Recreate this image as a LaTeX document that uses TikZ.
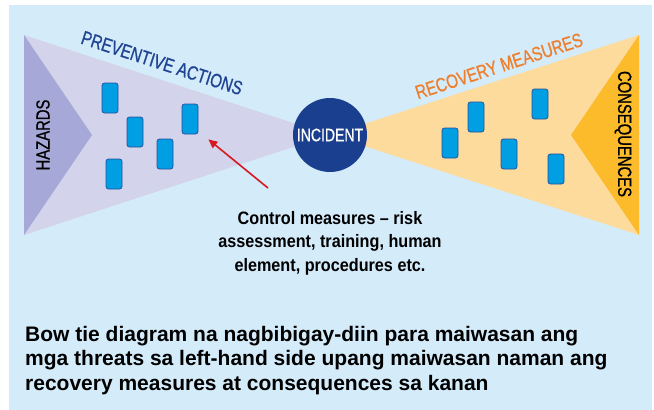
\documentclass[tikz,border=0pt]{standalone}
\usepackage{fontspec}
\setmainfont{Liberation Sans}
\newfontfamily\condfont[FakeStretch=0.78, FakeBold=0.8]{Liberation Sans}
\newfontfamily\notefont[FakeStretch=0.9]{Liberation Sans}
\usetikzlibrary{arrows.meta}

\definecolor{panelbg}{HTML}{D4EBFA}
\definecolor{prevfill}{HTML}{D3D4EC}
\definecolor{hazfill}{HTML}{A6A9D7}
\definecolor{recfill}{HTML}{FDDB9D}
\definecolor{consfill}{HTML}{FBBB2B}
\definecolor{incblue}{HTML}{1B3F8F}
\definecolor{ctrlfill}{HTML}{009FE3}
\definecolor{ctrledge}{HTML}{2A4F9A}
\definecolor{prevtext}{HTML}{1F4592}
\definecolor{rectext}{HTML}{EE7F2D}
\definecolor{arrowred}{HTML}{D7191F}

\tikzset{
  ctrl/.style={draw=ctrledge, fill=ctrlfill, line width=0.8pt,
    rounded corners=2.5pt, minimum width=16pt, minimum height=30pt, inner sep=0pt},
  sidelabel/.style={font=\condfont\fontsize{19}{20}\selectfont},
  edgelabel/.style={font=\condfont\fontsize{19.5}{20}\selectfont},
}

\begin{document}
\begin{tikzpicture}[x=1pt, y=-1pt]
  % page and panel
  \useasboundingbox (0,0) rectangle (654,410);
  \fill[white] (0,0) rectangle (654,410);
  \fill[panelbg] (9,5) rectangle (652,410);

  % the two halves of the bow tie
  \def\leftwing{(24,35) -- (330,135) -- (24,235) -- cycle}
  \def\rightwing{(639,35) -- (330,135) -- (639,235) -- cycle}
  \fill[prevfill] \leftwing;
  \fill[recfill] \rightwing;
  \fill[hazfill] (24,35) -- (92,135) -- (24,235) -- cycle;
  \fill[consfill] (639,35) -- (571,135) -- (639,235) -- cycle;

  % knot in the middle
  \node[circle, fill=incblue, minimum size=74pt, inner sep=0pt, text=white,
        font=\condfont\fontsize{18}{20}\selectfont] (incident) at (330,135) {INCIDENT};

  % barriers on either side
  \foreach \n/\x/\y in {p1/110/98, p2/135/132, p3/190/119, p4/165/154, p5/114/174}
    \node[ctrl] (\n) at (\x,\y) {};
  \foreach \n/\x/\y in {r1/476/117, r2/540/104, r3/450/143, r4/509/154, r5/556/169}
    \node[ctrl] (\n) at (\x,\y) {};

  % labels
  \node[sidelabel, rotate=90] (hazards) at (43,135) {HAZARDS};
  \node[sidelabel, rotate=-90] (consequences) at (623,134) {CONSEQUENCES};
  \node[edgelabel, text=prevtext, rotate=-18] (prevlabel) at (162,63) {PREVENTIVE ACTIONS};
  \node[edgelabel, text=rectext, rotate=18] (reclabel) at (499,66) {RECOVERY MEASURES};

  % note on the control measures
  \node[align=center, font=\notefont\bfseries\fontsize{18}{23.5}\selectfont]
    (note) at (330,243) {Control measures – risk\\assessment, training, human\\element, procedures etc.};
  \coordinate (notetip) at (268,188);
  \draw[arrowred, line width=1.6pt, -{Triangle[length=9pt, width=8pt]}]
    (notetip) -- ([shift={(10pt,-5pt)}]p3.south east);

  % caption, three lines set from the last baseline
  \node[anchor=base west, align=left, inner sep=0pt,
        font=\bfseries\fontsize{21}{24.5}\selectfont] (caption) at (25,390)
    {Bow tie diagram na nagbibigay-diin para maiwasan ang\\
     mga threats sa left-hand side upang maiwasan naman ang\\
     recovery measures at consequences sa kanan};
\end{tikzpicture}
\end{document}
